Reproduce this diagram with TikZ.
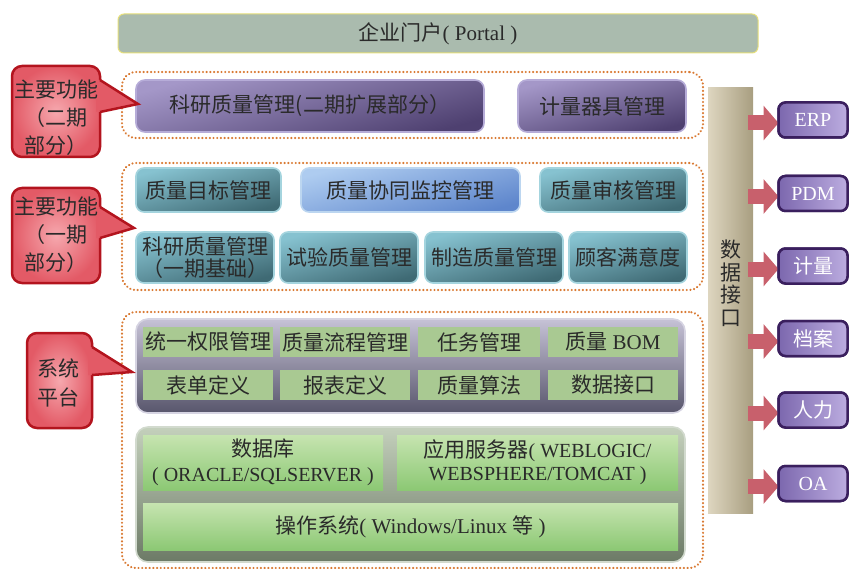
\documentclass[tikz,border=0pt]{standalone}
\usepackage{fontspec}
\setmainfont{Liberation Serif}
\newfontfamily\cjk{Noto Sans CJK SC}
\usetikzlibrary{arrows.meta,calc}
\newcommand\lat[1]{{\rmfamily #1}}
\definecolor{txt}{HTML}{2A2A2A}
\definecolor{portalfill}{HTML}{AABBAE}
\definecolor{portaledge}{HTML}{E6DF7A}
\definecolor{dotorange}{HTML}{D97A33}
\definecolor{purpletop}{HTML}{A497C8}
\definecolor{purplebot}{HTML}{4E4070}
\definecolor{purpleedge}{HTML}{B6ACD8}
\definecolor{tealtop}{HTML}{86C2D0}
\definecolor{tealbot}{HTML}{3F6A74}
\definecolor{tealedge}{HTML}{A4D4DE}
\definecolor{bluetop}{HTML}{AECCF0}
\definecolor{bluebot}{HTML}{5E86CC}
\definecolor{blueedge}{HTML}{BCD6F0}
\definecolor{plattop}{HTML}{C6C2D6}
\definecolor{platbot}{HTML}{58566C}
\definecolor{platedge}{HTML}{D6D4E2}
\definecolor{cellgreen}{HTML}{A9C992}
\definecolor{basetop}{HTML}{C4D0BC}
\definecolor{basebot}{HTML}{6C7A66}
\definecolor{baseedge}{HTML}{D2DACE}
\definecolor{gtop}{HTML}{C6E4B0}
\definecolor{gbot}{HTML}{8CC874}
\definecolor{barleft}{HTML}{DED6C0}
\definecolor{barright}{HTML}{A89E80}
\definecolor{extleft}{HTML}{7C68AE}
\definecolor{extright}{HTML}{BCACE0}
\definecolor{extedge}{HTML}{3A1F5E}
\definecolor{arrowred}{HTML}{C8606C}
\definecolor{calin}{HTML}{F6A8AE}
\definecolor{calout}{HTML}{E35A66}
\definecolor{caledge}{HTML}{B3141E}
\begin{document}
\begin{tikzpicture}[x=1pt,y=-1pt,
  every node/.style={inner sep=0pt, outer sep=0pt, text=txt, align=center,
    font=\cjk\fontsize{21}{24}\selectfont},
  portalbox/.style={draw=portaledge, line width=1pt, fill=portalfill, rounded corners=6pt},
  region/.style={draw=dotorange, line width=2.4pt, dash pattern=on 0.01pt off 3.7pt,
    line cap=round, rounded corners=14pt},
  purplebox/.style={draw=purpleedge, line width=1.6pt, rounded corners=9pt,
    top color=purpletop, bottom color=purplebot, shading angle=15},
  tealbox/.style={draw=tealedge, line width=1.6pt, rounded corners=8pt,
    top color=tealtop, bottom color=tealbot, shading angle=15},
  bluebox/.style={draw=blueedge, line width=1.6pt, rounded corners=8pt,
    top color=bluetop, bottom color=bluebot, shading angle=15},
  platbox/.style={draw=platedge, line width=1.6pt, rounded corners=12pt,
    top color=plattop, bottom color=platbot},
  cell/.style={fill=cellgreen, minimum height=30pt},
  basebox/.style={draw=baseedge, line width=1.6pt, rounded corners=12pt,
    top color=basetop, bottom color=basebot},
  gcell/.style={top color=gtop, bottom color=gbot},
  databar/.style={left color=barleft, right color=barright},
  extbox/.style={draw=extedge, line width=2.5pt, rounded corners=7pt,
    left color=extleft, right color=extright, text=white,
    minimum width=69pt, minimum height=35pt, font=\cjk\fontsize{20}{24}\selectfont},
  bigarrow/.style={draw=arrowred, line width=15pt, -{Triangle[length=15pt,width=34pt]}},
  callout/.style={draw=caledge, line width=2.5pt, rounded corners=10pt,
    inner color=calin, outer color=calout},
  calltext/.style={font=\cjk\fontsize{21}{28}\selectfont},
  pointedge/.style={draw=caledge, line width=2.5pt, line join=miter}
]
\useasboundingbox (0,0) rectangle (850,569);

% portal
\node[portalbox, minimum width=640pt, minimum height=39pt] (portal) at (438,33.5) {企业门户\lat{( Portal )}};

% dotted regions
\node[region, minimum width=581pt, minimum height=66pt] (r1) at (412.5,105) {};
\node[region, minimum width=581pt, minimum height=127pt] (r2) at (412.5,226.5) {};
\node[region, minimum width=581pt, minimum height=256pt] (r3) at (412.5,440) {};

% phase 2
\node[purplebox, minimum width=348pt, minimum height=52pt] (a1) at (310,106) {科研质量管理(二期扩展部分）};
\node[purplebox, minimum width=168pt, minimum height=52pt] (a2) at (602,106) {计量器具管理};

% phase 1
\node[tealbox, minimum width=145pt, minimum height=44pt] (b1) at (208.5,190) {质量目标管理};
\node[bluebox, minimum width=219pt, minimum height=44pt] (b2) at (410.5,190) {质量协同监控管理};
\node[tealbox, minimum width=147pt, minimum height=44pt] (b3) at (613.5,190) {质量审核管理};
\node[tealbox, minimum width=138pt, minimum height=51pt, font=\cjk\fontsize{21}{21.5}\selectfont] (c1) at (205,257.5) {科研质量管理\\（一期基础）};
\node[tealbox, minimum width=138pt, minimum height=51pt] (c2) at (349,257.5) {试验质量管理};
\node[tealbox, minimum width=138pt, minimum height=51pt] (c3) at (494,257.5) {制造质量管理};
\node[tealbox, minimum width=118pt, minimum height=51pt] (c4) at (628,257.5) {顾客满意度};

% system platform
\node[platbox, minimum width=549pt, minimum height=94pt] (plat) at (410.5,366) {};
\node[cell, minimum width=130pt] (p1) at (208,342) {统一权限管理};
\node[cell, minimum width=130pt] (p2) at (345,342) {质量流程管理};
\node[cell, minimum width=122pt] (p3) at (479,342) {任务管理};
\node[cell, minimum width=130pt] (p4) at (613,342) {质量\lat{ BOM}};
\node[cell, minimum width=130pt] (p5) at (208,385) {表单定义};
\node[cell, minimum width=130pt] (p6) at (345,385) {报表定义};
\node[cell, minimum width=122pt] (p7) at (479,385) {质量算法};
\node[cell, minimum width=130pt] (p8) at (613,385) {数据接口};

% base
\node[basebox, minimum width=549pt, minimum height=135pt] (base) at (410.5,494.5) {};
\node[gcell, minimum width=240pt, minimum height=55pt, font=\cjk\fontsize{21}{24.5}\selectfont] (db) at (263,462.5) {数据库\\\lat{\fontsize{20}{24.5}\selectfont( ORACLE/SQLSERVER )}};
\node[gcell, minimum width=281pt, minimum height=55pt, font=\cjk\fontsize{21}{23}\selectfont] (as) at (537.5,462.5) {应用服务器\lat{\fontsize{20}{23}\selectfont( WEBLOGIC/}\\\lat{\fontsize{20}{23}\selectfont WEBSPHERE/TOMCAT )}};
\node[gcell, minimum width=535pt, minimum height=47pt] (os) at (410.5,526.5) {操作系统\lat{( Windows/Linux }等\lat{ )}};

% data interface bar
\node[databar, minimum width=45pt, minimum height=425pt] (di) at (730.5,300.5) {};
\node[font=\cjk\fontsize{21}{22.5}\selectfont] (dit) at (731,283) {数\\据\\接\\口};

% external systems
\node[extbox] (e1) at (813,120) {\lat{ERP}};
\node[extbox] (e2) at (813,193.5) {\lat{PDM}};
\node[extbox] (e3) at (813,266) {计量};
\node[extbox] (e4) at (813,338.5) {档案};
\node[extbox] (e5) at (813,410) {人力};
\node[extbox] (e6) at (813,483.5) {\lat{OA}};
\foreach \i in {1,...,6}{
  \draw[bigarrow] ($(di.east|-e\i)+(-5,3)$) -- ($(e\i.west)+(0,3)$);
}
% redraw boxes over arrow tips
\node[extbox] at (e1) {\lat{ERP}};
\node[extbox] at (e2) {\lat{PDM}};
\node[extbox] at (e3) {计量};
\node[extbox] at (e4) {档案};
\node[extbox] at (e5) {人力};
\node[extbox] at (e6) {\lat{OA}};

% callouts
\node[callout, minimum width=88pt, minimum height=91pt] (k1) at (56,111.5) {};
\fill[calout] (96,80) -- (100,80) -- (138,104) -- (100,112) -- (96,112) -- cycle;
\draw[pointedge] (100,80) -- (138,104) -- (100,112);
\node[calltext] (k1t) at (56,117.5) {主要功能\\（二期\\部分）};

\node[callout, minimum width=88pt, minimum height=95pt] (k2) at (56,235.5) {};
\fill[calout] (96,207) -- (100,207) -- (134,228) -- (100,238) -- (96,238) -- cycle;
\draw[pointedge] (100,207) -- (134,228) -- (100,238);
\node[calltext] (k2t) at (56,234.5) {主要功能\\（一期\\部分）};

\node[callout, minimum width=65pt, minimum height=95pt] (k3) at (59.5,380.5) {};
\fill[calout] (88,347) -- (92,347) -- (132,372) -- (92,375) -- (88,375) -- cycle;
\draw[pointedge] (92,347) -- (132,372) -- (92,375);
\node[calltext, font=\cjk\fontsize{21}{29}\selectfont] (k3t) at (58,382.5) {系统\\平台};
\end{tikzpicture}
\end{document}
